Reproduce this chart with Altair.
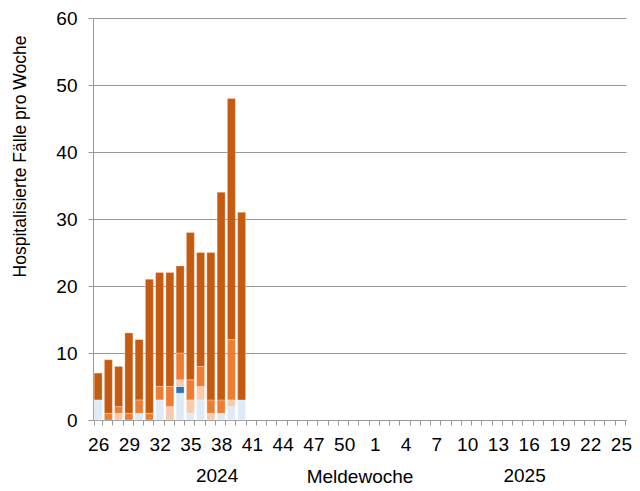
import altair as alt
import pandas as pd

# ---- data ----
weeks_2024 = [str(w) for w in range(26, 53)]
weeks_2025 = [str(w) for w in range(1, 26)]
domain = weeks_2024 + weeks_2025
label_weeks = ["26", "29", "32", "35", "38", "41", "44", "47", "50",
               "1", "4", "7", "10", "13", "16", "19", "22", "25"]

data_weeks = [str(w) for w in range(26, 41)]
light_blue = [3, 0, 0, 0, 1, 0, 3, 0, 4, 1, 3, 0, 1, 2, 3]
blue       = [0, 0, 0, 0, 0, 0, 0, 0, 1, 0, 0, 0, 0, 0, 0]
peach      = [0, 0, 1, 0, 0, 0, 0, 2, 1, 2, 2, 1, 0, 1, 0]
medium     = [0, 1, 1, 1, 2, 1, 2, 3, 4, 3, 3, 2, 2, 9, 0]
dark       = [4, 8, 6, 12, 9, 20, 17, 17, 13, 22, 17, 22, 31, 36, 28]

groups = ["G1", "G2", "G3", "G4", "G5"]
colors = ["#DEEBF7", "#2E75B6", "#F8CBAD", "#ED7D31", "#C55A11"]
series = [light_blue, blue, peach, medium, dark]

rows = []
for gi, (g, vals) in enumerate(zip(groups, series)):
    for w, v in zip(data_weeks, vals):
        if v > 0:
            rows.append({"week": w, "group": g, "order": gi, "value": v})
df = pd.DataFrame(rows)

years = pd.DataFrame({"week": ["38", "16"], "label": ["2024", "2025"]})

FONT = "Liberation Sans"
W, H = 533, 402

label_expr = "indexof([" + ",".join("'%s'" % s for s in label_weeks) + "], datum.label) >= 0 ? datum.label : ''"

xscale = alt.Scale(domain=domain, paddingInner=0.22, paddingOuter=0.11)

bars = alt.Chart(df).mark_bar(stroke="white", strokeWidth=0.3).encode(
    x=alt.X("week:N", scale=xscale, sort=domain,
            axis=alt.Axis(title="Meldewoche", tickBand="extent", labelExpr=label_expr,
                          labelAngle=0, labelOverlap=False, labelFontSize=19,
                          labelPadding=10, tickSize=5, titleFontSize=19,
                          titleFontWeight="normal", titleY=56, titleBaseline="middle",
                          domainColor="#999999", tickColor="#999999", grid=False)),
    y=alt.Y("value:Q", stack="zero", scale=alt.Scale(domain=[0, 60], nice=False),
            axis=alt.Axis(title="Hospitalisierte Fälle pro Woche", values=[0, 10, 20, 30, 40, 50, 60],
                          labelFontSize=19, labelPadding=11, tickSize=5,
                          titleFontSize=17.5, titleFontWeight="normal",
                          titleX=-73, titleY=138, titleBaseline="middle", titleAngle=270,
                          domainColor="#999999", tickColor="#999999",
                          grid=True, gridColor="#999999", gridWidth=1)),
    color=alt.Color("group:N", scale=alt.Scale(domain=groups, range=colors), legend=None),
    order=alt.Order("order:Q", sort="ascending"),
)

year_text = alt.Chart(years).mark_text(fontSize=19, font=FONT, baseline="middle", dx=-4).encode(
    x=alt.X("week:N", scale=xscale, sort=domain),
    y=alt.value(H + 56),
    text="label:N",
)

chart = alt.layer(bars, year_text).properties(
    width=W, height=H,
    autosize=alt.AutoSizeParams(type="none"),
    padding={"left": 85, "top": 10, "right": 6, "bottom": 66},
).configure_view(stroke=None).configure_axis(
    labelFont=FONT, titleFont=FONT, labelColor="black", titleColor="black"
)

chart.save("out.html", embed_options={"renderer": "svg", "actions": False})
